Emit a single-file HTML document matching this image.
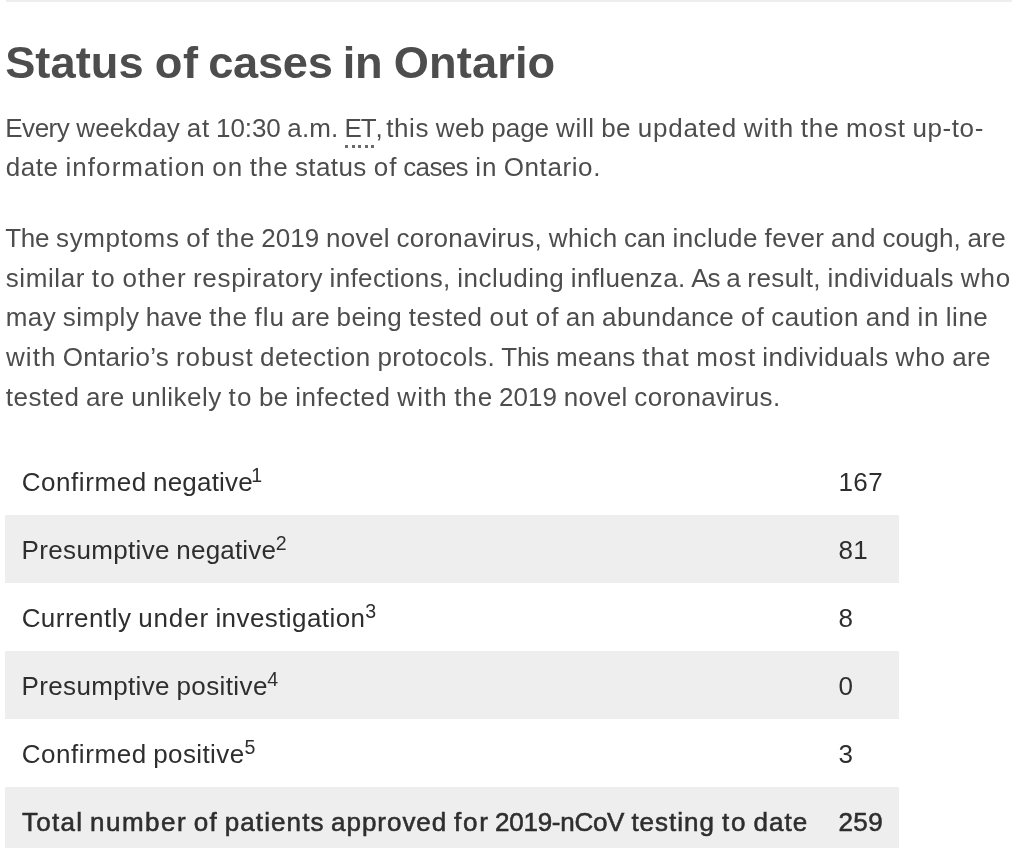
<!DOCTYPE html>
<html lang="en">
<head>
<meta charset="utf-8">
<title>Status of cases in Ontario</title>
<style>
html,body{margin:0;padding:0;background:#fff;}
body{width:1024px;height:848px;overflow:hidden;position:relative;font-family:"Liberation Sans",sans-serif;color:#4d4d4d;}
.topline{position:absolute;left:6px;top:0;width:1006px;height:2px;background:#eee;}
h1{position:absolute;left:0;top:0;margin:0;width:1024px;height:100px;font-size:45.2px;line-height:52px;font-weight:bold;color:#4d4d4d;}
h1 span{position:absolute;white-space:nowrap;}
p{margin:0;}
h1,p,table{filter:blur(0.45px);}
.ln{position:absolute;left:0;display:block;width:1024px;height:40px;white-space:nowrap;font-size:26px;line-height:40px;color:#4d4d4d;}
.w{position:absolute;top:0;white-space:nowrap;}
abbr{text-decoration:none;position:relative;}
abbr::after{content:"";position:absolute;left:0.7px;right:-1.7px;top:31.7px;height:3px;background:repeating-linear-gradient(90deg,#6a6a6a 0,#6a6a6a 3px,transparent 3px,transparent 6.5px);}
table{position:absolute;left:5px;top:447px;width:894px;border-collapse:collapse;border-spacing:0;}
tr{height:68px;}
tr:nth-child(even){background:#eee;}
td{padding:0;position:relative;height:68px;}
td.v{width:77px;}
.c{position:absolute;left:0;top:0;display:block;white-space:nowrap;font-size:26px;line-height:40px;color:#2e2e2e;height:40px;}
.c sup{position:absolute;font-size:19.6px;line-height:40px;top:-7.7px;}
tr.t .c{font-weight:normal;-webkit-text-stroke:0.55px #2e2e2e;}

</style>
</head>
<body>
<div class="topline"></div>
<h1>
<span id="h0" style="left:5.19px;top:37.0px;letter-spacing:0.044px">Status</span> 
<span id="h1" style="left:154.68px;top:37.0px;letter-spacing:0.78px">of</span> 
<span id="h2" style="left:208.2px;top:37.0px;letter-spacing:-0.267px">cases</span> 
<span id="h3" style="left:342.64px;top:37.0px;letter-spacing:-0.24px">in</span> 
<span id="h4" style="left:393.83px;top:37.0px;letter-spacing:0.12px">Ontario</span> 
</h1>
<p>
<span class="ln" id="a1" style="top:107.9px"><span class="w" style="left:5.26px;letter-spacing:-0.476px">Every</span> <span class="w" style="left:76.24px;letter-spacing:0.160px">weekday</span> <span class="w" style="left:186.81px;letter-spacing:0.667px">at</span> <span class="w" style="left:216.02px;letter-spacing:-0.085px">10:30</span> <span class="w" style="left:287.35px;letter-spacing:0.134px">a.m.</span> <span class="w" style="left:344.42px;letter-spacing:-1.091px"><abbr title="Eastern Time">ET</abbr>,</span> <span class="w" style="left:386.14px;letter-spacing:0.624px">this</span> <span class="w" style="left:435.65px;letter-spacing:0.571px">web</span> <span class="w" style="left:491.33px;letter-spacing:-0.043px">page</span> <span class="w" style="left:555.94px;letter-spacing:0.699px">will</span> <span class="w" style="left:601.27px;letter-spacing:0.399px">be</span> <span class="w" style="left:637.74px;letter-spacing:0.760px">updated</span> <span class="w" style="left:743.78px;letter-spacing:1.084px">with</span> <span class="w" style="left:800.81px;letter-spacing:0.845px">the</span> <span class="w" style="left:846.08px;letter-spacing:0.878px">most</span> <span class="w" style="left:912.38px;letter-spacing:0.609px">up-to-</span></span> 
<span class="ln" id="a2" style="top:147.3px"><span class="w" style="left:5.78px;letter-spacing:0.564px">date</span> <span class="w" style="left:65.48px;letter-spacing:1.060px">information</span> <span class="w" style="left:212.31px;letter-spacing:0.991px">on</span> <span class="w" style="left:249.75px;letter-spacing:0.876px">the</span> <span class="w" style="left:294.88px;letter-spacing:0.408px">status</span> <span class="w" style="left:373.64px;letter-spacing:1.121px">of</span> <span class="w" style="left:403.27px;letter-spacing:-0.656px">cases</span> <span class="w" style="left:475.27px;letter-spacing:0.879px">in</span> <span class="w" style="left:503.72px;letter-spacing:0.598px">Ontario.</span></span> 
</p>
<p>
<span class="ln" id="b1" style="top:218.3px"><span class="w" style="left:5.31px;letter-spacing:-0.380px">The</span> <span class="w" style="left:56.04px;letter-spacing:0.631px">symptoms</span> <span class="w" style="left:186.34px;letter-spacing:1.070px">of</span> <span class="w" style="left:216.60px;letter-spacing:0.820px">the</span> <span class="w" style="left:261.35px;letter-spacing:-0.013px">2019</span> <span class="w" style="left:325.90px;letter-spacing:0.373px">novel</span> <span class="w" style="left:396.46px;letter-spacing:0.330px">coronavirus,</span> <span class="w" style="left:548.69px;letter-spacing:0.524px">which</span> <span class="w" style="left:624.03px;letter-spacing:-0.110px">can</span> <span class="w" style="left:672.45px;letter-spacing:0.442px">include</span> <span class="w" style="left:764.49px;letter-spacing:0.422px">fever</span> <span class="w" style="left:831.04px;letter-spacing:0.555px">and</span> <span class="w" style="left:882.39px;letter-spacing:0.047px">cough,</span> <span class="w" style="left:967.43px;letter-spacing:0.321px">are</span></span> 
<span class="ln" id="b2" style="top:257.9px"><span class="w" style="left:5.79px;letter-spacing:0.575px">similar</span> <span class="w" style="left:91.83px;letter-spacing:1.254px">to</span> <span class="w" style="left:122.45px;letter-spacing:0.989px">other</span> <span class="w" style="left:193.06px;letter-spacing:0.660px">respiratory</span> <span class="w" style="left:329.55px;letter-spacing:0.362px">infections,</span> <span class="w" style="left:457.23px;letter-spacing:0.497px">including</span> <span class="w" style="left:570.82px;letter-spacing:0.339px">influenza.</span> <span class="w" style="left:691.34px;letter-spacing:-1.143px">As</span> <span class="w" style="left:726.33px;letter-spacing:-0.401px">a</span> <span class="w" style="left:747.36px;letter-spacing:0.398px">result,</span> <span class="w" style="left:827.54px;letter-spacing:0.453px">individuals</span> <span class="w" style="left:960.73px;letter-spacing:0.917px">who</span></span> 
<span class="ln" id="b3" style="top:297.4px"><span class="w" style="left:5.71px;letter-spacing:0.421px">may</span> <span class="w" style="left:62.71px;letter-spacing:0.504px">simply</span> <span class="w" style="left:145.74px;letter-spacing:0.036px">have</span> <span class="w" style="left:209.25px;letter-spacing:0.844px">the</span> <span class="w" style="left:254.59px;letter-spacing:1.019px">flu</span> <span class="w" style="left:291.34px;letter-spacing:0.345px">are</span> <span class="w" style="left:336.55px;letter-spacing:0.381px">being</span> <span class="w" style="left:408.71px;letter-spacing:0.506px">tested</span> <span class="w" style="left:489.50px;letter-spacing:1.206px">out</span> <span class="w" style="left:535.78px;letter-spacing:1.092px">of</span> <span class="w" style="left:565.85px;letter-spacing:0.348px">an</span> <span class="w" style="left:602.05px;letter-spacing:0.374px">abundance</span> <span class="w" style="left:741.03px;letter-spacing:1.092px">of</span> <span class="w" style="left:771.22px;letter-spacing:0.570px">caution</span> <span class="w" style="left:865.63px;letter-spacing:0.582px">and</span> <span class="w" style="left:917.47px;letter-spacing:0.852px">in</span> <span class="w" style="left:945.81px;letter-spacing:0.518px">line</span></span> 
<span class="ln" id="b4" style="top:337.0px"><span class="w" style="left:6.03px;letter-spacing:1.061px">with</span> <span class="w" style="left:62.71px;letter-spacing:0.325px">Ontario’s</span> <span class="w" style="left:176.04px;letter-spacing:0.882px">robust</span> <span class="w" style="left:260.02px;letter-spacing:0.596px">detection</span> <span class="w" style="left:377.42px;letter-spacing:0.500px">protocols.</span> <span class="w" style="left:501.31px;letter-spacing:-0.295px">This</span> <span class="w" style="left:556.08px;letter-spacing:0.254px">means</span> <span class="w" style="left:642.33px;letter-spacing:1.010px">that</span> <span class="w" style="left:696.23px;letter-spacing:0.852px">most</span> <span class="w" style="left:762.34px;letter-spacing:0.450px">individuals</span> <span class="w" style="left:895.49px;letter-spacing:0.912px">who</span> <span class="w" style="left:952.20px;letter-spacing:0.324px">are</span></span> 
<span class="ln" id="b5" style="top:376.5px"><span class="w" style="left:5.75px;letter-spacing:0.491px">tested</span> <span class="w" style="left:86.01px;letter-spacing:0.329px">are</span> <span class="w" style="left:131.21px;letter-spacing:0.463px">unlikely</span> <span class="w" style="left:228.58px;letter-spacing:1.256px">to</span> <span class="w" style="left:258.91px;letter-spacing:0.379px">be</span> <span class="w" style="left:295.23px;letter-spacing:0.530px">infected</span> <span class="w" style="left:397.37px;letter-spacing:1.067px">with</span> <span class="w" style="left:454.32px;letter-spacing:0.828px">the</span> <span class="w" style="left:499.10px;letter-spacing:-0.004px">2019</span> <span class="w" style="left:563.68px;letter-spacing:0.380px">novel</span> <span class="w" style="left:634.31px;letter-spacing:0.381px">coronavirus.</span></span> 
</p>
<table>
<tr><td><span class="c" id="r0" style="top:15.21px"><span class="w" style="left:16.68px;letter-spacing:0.569px">Confirmed</span> <span class="w" style="left:148.10px;letter-spacing:0.173px">negative</span><sup id="s0" style="left:246.15px">1</sup></span></td><td class="v"><span class="c" id="v0" style="left:16.5px;top:15.21px;letter-spacing:0.4px">167</span></td></tr>
<tr><td><span class="c" id="r1" style="top:15.21px"><span class="w" style="left:16.57px;letter-spacing:0.347px">Presumptive</span> <span class="w" style="left:171.36px;letter-spacing:0.173px">negative</span><sup id="s1" style="left:270.73px">2</sup></span></td><td class="v"><span class="c" id="v1" style="left:16.5px;top:15.21px;letter-spacing:0.4px">81</span></td></tr>
<tr><td><span class="c" id="r2" style="top:15.21px"><span class="w" style="left:16.64px;letter-spacing:0.473px">Currently</span> <span class="w" style="left:133.13px;letter-spacing:0.889px">under</span> <span class="w" style="left:210.40px;letter-spacing:0.420px">investigation</span><sup id="s2" style="left:360.13px">3</sup></span></td><td class="v"><span class="c" id="v2" style="left:16.5px;top:15.21px;letter-spacing:0.4px">8</span></td></tr>
<tr><td><span class="c" id="r3" style="top:15.21px"><span class="w" style="left:16.57px;letter-spacing:0.347px">Presumptive</span> <span class="w" style="left:171.47px;letter-spacing:0.393px">positive</span><sup id="s3" style="left:262.37px">4</sup></span></td><td class="v"><span class="c" id="v3" style="left:16.5px;top:15.21px;letter-spacing:0.4px">0</span></td></tr>
<tr><td><span class="c" id="r4" style="top:15.21px"><span class="w" style="left:16.68px;letter-spacing:0.569px">Confirmed</span> <span class="w" style="left:148.21px;letter-spacing:0.393px">positive</span><sup id="s4" style="left:239.52px">5</sup></span></td><td class="v"><span class="c" id="v4" style="left:16.5px;top:15.21px;letter-spacing:0.4px">3</span></td></tr>
<tr class="t"><td><span class="c" id="r5" style="top:15.21px"><span class="w" style="left:17.03px;letter-spacing:1.261px">Total</span> <span class="w" style="left:84.94px;letter-spacing:1.516px">number</span> <span class="w" style="left:188.72px;letter-spacing:1.444px">of</span> <span class="w" style="left:219.69px;letter-spacing:1.109px">patients</span> <span class="w" style="left:326.11px;letter-spacing:0.956px">approved</span> <span class="w" style="left:449.11px;letter-spacing:1.695px">for</span> <span class="w" style="left:490.12px;letter-spacing:-0.274px">2019-nCoV</span> <span class="w" style="left:626.39px;letter-spacing:1.010px">testing</span> <span class="w" style="left:717.03px;letter-spacing:1.816px">to</span> <span class="w" style="left:748.52px;letter-spacing:1.034px">date</span></span></td><td class="v"><span class="c" id="v5" style="left:16.5px;top:15.21px;letter-spacing:0.4px">259</span></td></tr>
</table>
</body>
</html>
